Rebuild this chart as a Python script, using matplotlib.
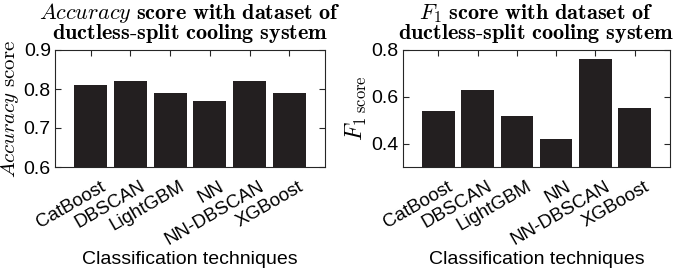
import matplotlib
matplotlib.use("Agg")
import matplotlib.pyplot as plt
import matplotlib.transforms as mtrans
import numpy as np

categories = ["CatBoost", "DBSCAN", "LightGBM", "NN", "NN-DBSCAN", "XGBoost"]
accuracy = [0.81, 0.82, 0.79, 0.77, 0.82, 0.79]
f1 = [0.54, 0.63, 0.52, 0.42, 0.76, 0.55]
acc_ticks = [0.6, 0.7, 0.8, 0.9]
f1_ticks = [0.4, 0.6, 0.8]

plt.rcParams['font.family'] = ['Liberation Sans', 'DejaVu Sans']
plt.rcParams['mathtext.fontset'] = 'cm'

fig = plt.figure(figsize=(6.85, 2.7), dpi=100)
ax1 = fig.add_axes([55/685, 1-167/270, 270/685, 117/270])
ax2 = fig.add_axes([403/685, 1-167/270, 267/685, 117/270])

barcol = '#231f20'
x = np.arange(1, len(categories)+1)
offset = mtrans.ScaledTranslation(0.09, -0.11, fig.dpi_scale_trans)

def style(ax, vals, ylim, yticks):
    ax.bar(x, vals, width=0.83, color=barcol, edgecolor='none', zorder=2)
    ax.set_xlim(0.1, 6.9)
    ax.set_ylim(*ylim)
    ax.set_yticks(yticks)
    ax.set_yticklabels([f"{t:g}" for t in yticks], fontsize=14)
    ax.set_xticks(x)
    ax.set_xticklabels(categories, rotation=30, ha='right', va='top',
                       rotation_mode='anchor', fontsize=13.5)
    ax.tick_params(direction='in', top=True, right=True, length=4, width=0.8, color='#262626', pad=3)
    ax.tick_params(axis='x', pad=0)
    for lab in ax.get_xticklabels():
        lab.set_transform(lab.get_transform() + offset)
    for s in ax.spines.values():
        s.set_color('#262626')
        s.set_linewidth(0.8)
    ax.set_xlabel("Classification techniques", fontsize=14)
    ax.xaxis.set_label_coords(0.5, -0.72)

style(ax1, accuracy, (0.6, 0.9), acc_ticks)
style(ax2, f1, (0.3, 0.8), f1_ticks)

ax1.set_ylabel(r"$\mathit{Accuracy}\ \mathrm{score}$", fontsize=15, labelpad=2)
ax2.set_ylabel(r"$F_{1\ \mathrm{score}}$", fontsize=17, labelpad=2)

line2 = r"$\mathbf{ductless}\text{-}\mathbf{split\ cooling\ system}$"
ax1.set_title(r"$\mathit{Accuracy}$ $\mathbf{score\ with\ dataset\ of}$" "\n" + line2,
              fontsize=16, pad=8, linespacing=0.8)
ax2.set_title(r"$F_1$ $\mathbf{score\ with\ dataset\ of}$" "\n" + line2,
              fontsize=16, pad=8, linespacing=0.8)

fig.savefig("out.png", dpi=100)
